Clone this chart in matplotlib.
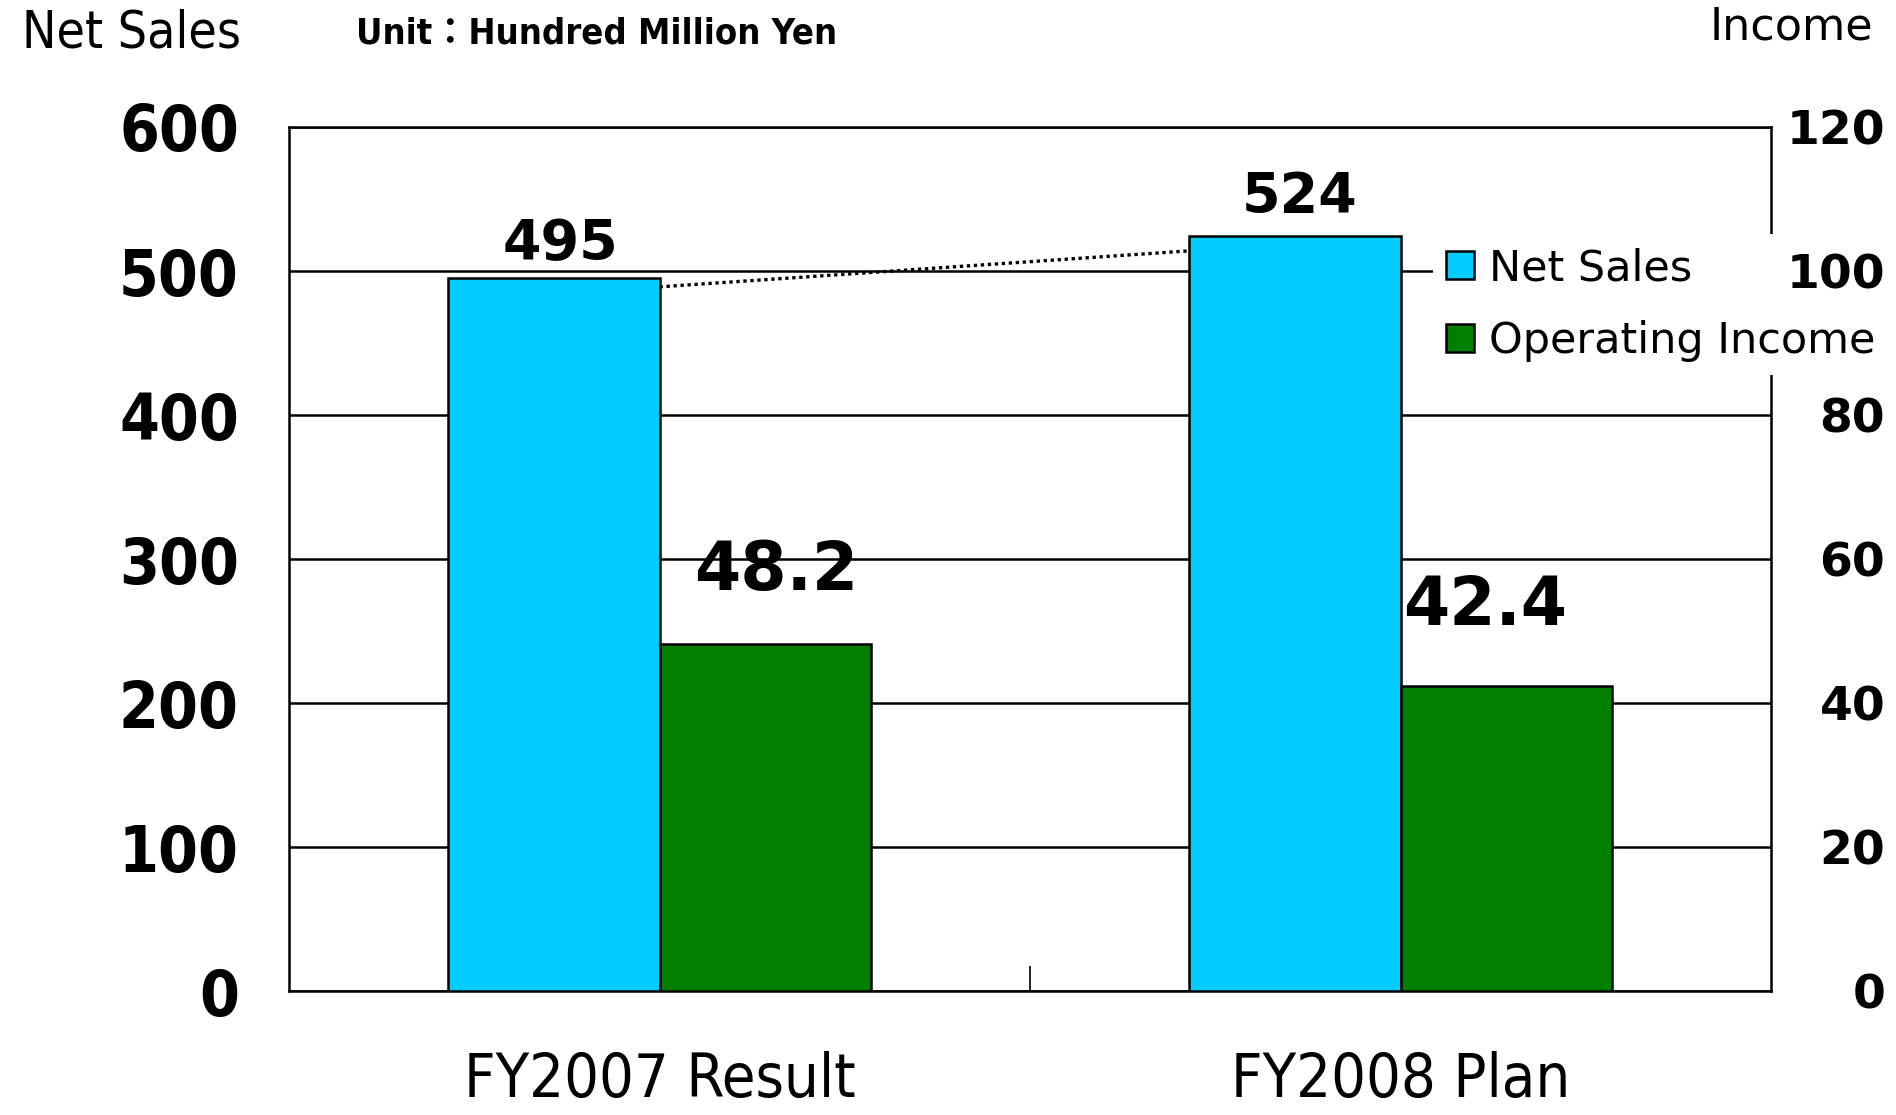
import matplotlib
matplotlib.use("Agg")
import matplotlib.pyplot as plt
from matplotlib.patches import Patch
from matplotlib import font_manager
from matplotlib.font_manager import FontProperties

# ---------------------------------------------------------------------------
# Data (Unit: hundred million yen)
# ---------------------------------------------------------------------------
categories = ["FY2007 Result", "FY2008 Plan"]
net_sales = [495, 524]
operating_income = [48.2, 42.4]
sales_ticks = [0, 100, 200, 300, 400, 500, 600]
income_ticks = [0, 20, 40, 60, 80, 100, 120]

CYAN = "#00CCFF"
GREEN = "#008000"
WIDE = ["DejaVu Sans", "Noto Sans CJK JP"]

# pick a narrow face for the condensed labels, whichever is installed
_installed = {(f.name, f.stretch) for f in font_manager.fontManager.ttflist}
if any(n == "Liberation Sans Narrow" for n, _ in _installed):
    NARROW, STRETCH = ["Liberation Sans Narrow", "Noto Sans CJK JP"], "normal"
elif ("DejaVu Sans", "condensed") in _installed or \
        ("DejaVu Sans", "semi-condensed") in _installed:
    NARROW, STRETCH = ["DejaVu Sans", "Noto Sans CJK JP"], "condensed"
else:
    NARROW, STRETCH = ["Roboto", "Noto Sans CJK JP"], "normal"


def narrow(size, weight="normal"):
    return FontProperties(family=NARROW, stretch=STRETCH, size=size,
                          weight=weight)


fig = plt.figure(figsize=(18.96, 11.15), dpi=100)
ax = fig.add_axes([0.1524, 0.1112, 0.7818, 0.7749])
ax2 = ax.twinx()

x = list(range(len(categories)))
w = 0.285

ax.bar([i - w / 2 for i in x], net_sales, width=w, color=CYAN,
       edgecolor="black", linewidth=1.8, zorder=3)
ax2.bar([i + w / 2 for i in x], operating_income, width=w, color=GREEN,
        edgecolor="black", linewidth=1.8, zorder=3)

# dotted connector between the net sales bar tops
ax.plot([x[0], x[1] - w], [net_sales[0] - 6, net_sales[1] - 10],
        color="black", linestyle=(0, (1, 1.1)), linewidth=2.4, zorder=4)

ax.set_xlim(-0.5, 1.5)
ax.set_ylim(0, 600)
ax2.set_ylim(0, 120)

ax.set_yticks(sales_ticks)
ax.set_yticklabels([str(v) for v in sales_ticks],
                   fontproperties=narrow(46, "bold"))
ax2.set_yticks(income_ticks)
ax2.set_yticklabels([str(v) for v in income_ticks], family=WIDE,
                    fontweight="bold", fontsize=34, ha="right")
ax.tick_params(axis="y", length=0, pad=36)
ax2.tick_params(axis="y", length=0, pad=82)

ax.set_xticks(x)
ax.set_xticklabels(categories, fontproperties=narrow(44))
ax.tick_params(axis="x", length=0, pad=43)
ax.set_xticks([0.5], minor=True)
ax.tick_params(axis="x", which="minor", direction="in", length=18, width=1.2)

ax.grid(True, axis="y", color="black", linewidth=1.8, zorder=0)
ax.set_axisbelow(True)
for s in ax.spines.values():
    s.set_linewidth(1.8)
for s in ax2.spines.values():
    s.set_visible(False)

# value labels
ax.annotate(str(net_sales[0]), (x[0] - w / 2, net_sales[0]), xytext=(5, 5),
            textcoords="offset points", ha="center", va="bottom",
            family=WIDE, fontweight="bold", fontsize=40)
ax.annotate(str(net_sales[1]), (x[1] - w / 2, net_sales[1]), xytext=(3, 9),
            textcoords="offset points", ha="center", va="bottom",
            family=WIDE, fontweight="bold", fontsize=40)
ax2.annotate("%.1f" % operating_income[0], (x[0] + w / 2, operating_income[0]),
             xytext=(8, 29), textcoords="offset points", ha="center",
             va="bottom", family=WIDE, fontweight="bold", fontsize=48)
ax2.annotate("%.1f" % operating_income[1], (x[1] + w / 2, operating_income[1]),
             xytext=(-15, 34), textcoords="offset points", ha="center",
             va="bottom", family=WIDE, fontweight="bold", fontsize=48)

# legend: white box hides gridline and right spine, right tick labels on top
handles = [Patch(facecolor=CYAN, edgecolor="black", linewidth=1.8),
           Patch(facecolor=GREEN, edgecolor="black", linewidth=1.8)]
leg = ax.legend(handles, ["Net Sales", "Operating Income"],
                loc="upper left", bbox_to_anchor=(0.756, 0.79),
                bbox_transform=fig.transFigure,
                prop={"family": WIDE, "size": 31}, frameon=True,
                facecolor="white", edgecolor="none", framealpha=1,
                handlelength=0.65, handleheight=0.65, handletextpad=0.35,
                labelspacing=0.72, borderpad=0.3, borderaxespad=0)
leg.set_zorder(10)

# headers
fig.text(0.0116, 0.970, "Net Sales", fontproperties=narrow(37),
         ha="left", va="center")
fig.text(0.188, 0.970, "Unit\uff1aHundred Million Yen",
         fontproperties=narrow(26, "bold"), ha="left", va="center")
fig.text(0.988, 0.976, "Income", family=WIDE, fontsize=32,
         ha="right", va="center")

fig.savefig("out.png", dpi=100)
